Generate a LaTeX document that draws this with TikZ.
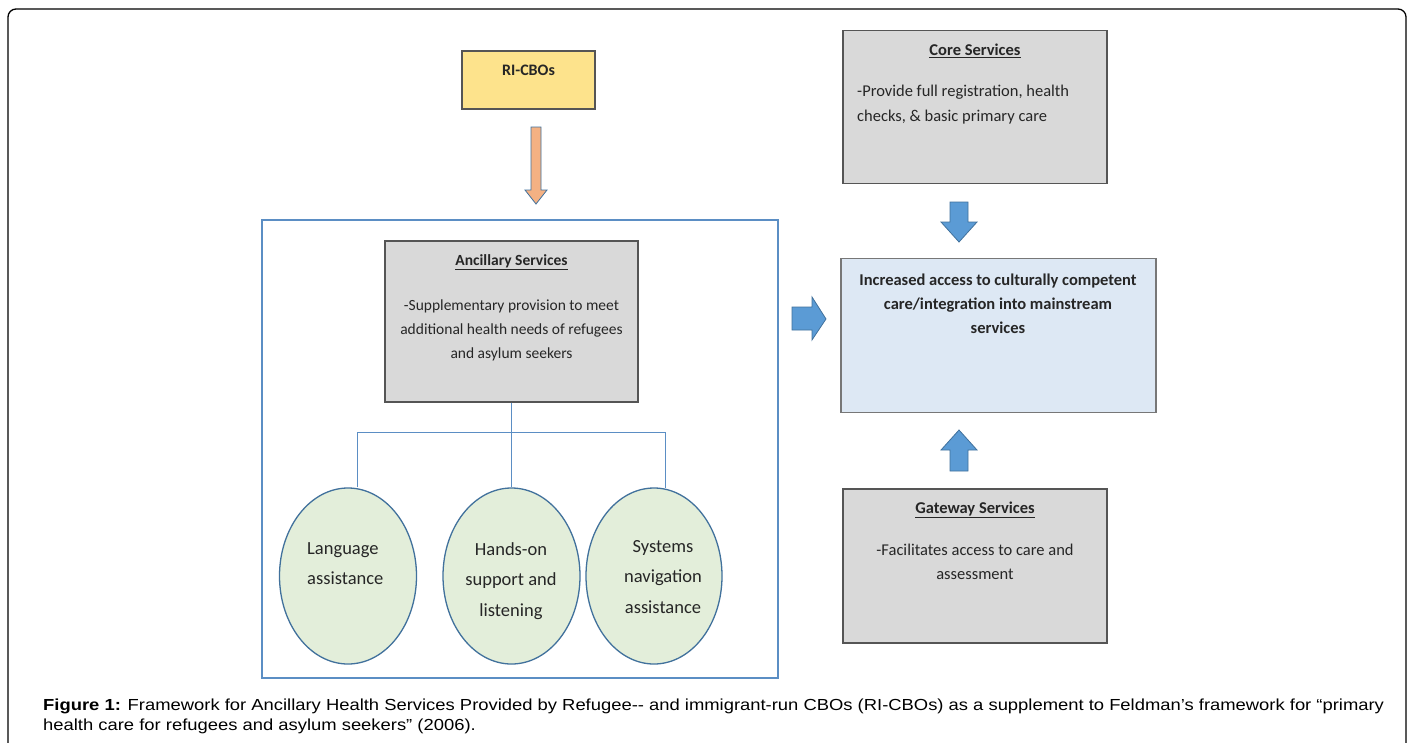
\documentclass[tikz,border=0pt]{standalone}
\usepackage{fontspec}
\setmainfont{Liberation Sans}
\newfontfamily\capfont[FakeStretch=1.15]{Liberation Sans}
\newfontfamily\calfont{Carlito}
\usetikzlibrary{shapes.geometric}
\definecolor{boxgray}{HTML}{D9D9D9}
\definecolor{boxedge}{HTML}{555555}
\definecolor{ryellow}{HTML}{FDE38C}
\definecolor{rorange}{HTML}{F4B183}
\definecolor{bfill}{HTML}{5B9BD5}
\definecolor{bedge}{HTML}{41719C}
\definecolor{framebl}{HTML}{5B8EC4}
\definecolor{cgreen}{HTML}{E3EEDA}
\definecolor{lblue}{HTML}{DDE8F4}
\tikzset{
  graybox/.style={draw=boxedge, line width=1.4pt, fill=boxgray, inner sep=0pt},
  circnode/.style={draw=bedge, line width=1.3pt, fill=cgreen, ellipse, inner sep=0pt},
  blockarrow/.style={draw=bedge, line width=0.8pt, fill=bfill},
  titletext/.style={font=\calfont\bfseries\fontsize{16.5}{24}\selectfont, text=black!85, inner sep=0pt, anchor=mid},
  bodytext/.style={font=\calfont\fontsize{16.5}{25}\selectfont, text=black!85, inner sep=0pt, anchor=north},
  anctext/.style={font=\calfont\fontsize{15.5}{24}\selectfont, text=black!85, inner sep=0pt, anchor=north},
  circtext/.style={font=\calfont\fontsize{18.5}{30.5}\selectfont, text=black!85, inner sep=0pt, anchor=north},
  captext/.style={font=\capfont\fontsize{16}{20}\selectfont, inner sep=0pt, anchor=base west},
  tree/.style={draw=framebl, line width=1pt}
}
\begin{document}
\begin{tikzpicture}[x=1pt,y=-1pt]
\useasboundingbox (0,0) rectangle (1412,742);
\fill[white] (0,0) rectangle (1412,742);
% outer frame
\draw[black, line width=1.3pt, rounded corners=8pt] (8,760) -- (8,9) -- (1406,9) -- (1406,760);

% RI-CBOs
\node[draw=boxedge, line width=1.3pt, fill=ryellow, minimum width=133pt, minimum height=58pt, inner sep=0pt] (ri) at (528.5,80) {};
\node[titletext, font=\calfont\bfseries\fontsize{16}{24}\selectfont] (ritext) at (528.5,73) {RI-CBOs};

% blue frame
\node[draw=framebl, line width=1.2pt, minimum width=516pt, minimum height=458pt, inner sep=0pt] (frame) at (520,449) {};

% orange arrow (from RI-CBOs into the frame)
\draw[draw=bedge, line width=0.8pt, fill=rorange] (531,127) -- (541,127) -- (541,190) -- (547,190) -- (536,204) -- (525,190) -- (531,190) -- cycle;

% Ancillary box
\node[graybox, minimum width=253pt, minimum height=161pt] (anc) at (511.5,321.5) {};
\node[titletext, font=\calfont\bfseries\fontsize{15.5}{24}\selectfont] (anctitle) at (511.5,263) {\underline{Ancillary Services}};
\node[anctext, align=center] (ancbody) at (511.5,300) {-Supplementary provision to meet\\additional health needs of refugees\\and asylum seekers};

% circles
\node[circnode, minimum width=137pt, minimum height=176pt] (c1) at (348,576) {};
\node[circnode, minimum width=137pt, minimum height=176pt] (c2) at (511.5,576) {};
\node[circnode, minimum width=136pt, minimum height=176pt] (c3) at (654,576) {};
\node[circtext, align=left, anchor=north west] (t1) at (307,542) {Language\\assistance};
\node[circtext, align=center] (t2) at (511,542) {Hands-on\\support and\\listening};
\node[circtext, align=center] (t3) at (663,540) {Systems\\navigation\\assistance};

% tree lines
\draw[tree] (anc.south) -- (c2.north);
\draw[tree] (c1.north -| 357,0) -- (357,432) -- (665,432) -- (665,488);

% right arrow
\draw[blockarrow] (792,307) -- (812,307) -- (812,297) -- (826,319) -- (812,340) -- (812,330) -- (792,330) -- cycle;

% Core services
\node[graybox, minimum width=264pt, minimum height=153pt] (core) at (975,107) {};
\node[titletext] (coretitle) at (975,53) {\underline{Core Services}};
\node[bodytext, align=left, anchor=north west] (corebody) at (857,85)
  {-Provide full registration, health\\checks, \& basic primary care};

% down arrow
\draw[blockarrow] (950,202) -- (968,202) -- (968,222) -- (977,222) -- (959,242) -- (941,222) -- (950,222) -- cycle;

% Increased access box
\node[draw=boxedge!80, line width=1.3pt, fill=lblue, minimum width=315pt, minimum height=154pt, inner sep=0pt] (inc) at (998.5,335.5) {};
\node[bodytext, align=center, font=\calfont\bfseries\fontsize{16.5}{24}\selectfont] (inctext) at (998,274)
  {Increased access to culturally competent\\care/integration into mainstream\\services};

% up arrow
\draw[blockarrow] (950,471) -- (968,471) -- (968,450) -- (977,450) -- (959,430) -- (941,450) -- (950,450) -- cycle;

% Gateway box
\node[graybox, minimum width=264pt, minimum height=154pt] (gate) at (975,566) {};
\node[titletext] (gatetitle) at (975,511) {\underline{Gateway Services}};
\node[bodytext, align=center, font=\calfont\fontsize{16.5}{24}\selectfont] (gatebody) at (975,544)
  {-Facilitates access to care and\\assessment};

% caption
\node[captext] (cap1) at (43,710)
  {\textbf{Figure 1:} Framework for Ancillary Health Services Provided by Refugee-{}- and immigrant-run CBOs (RI-CBOs) as a supplement to Feldman’s framework for “primary};
\node[captext] (cap2) at (43,730)
  {health care for refugees and asylum seekers” (2006).};
\end{tikzpicture}
\end{document}
